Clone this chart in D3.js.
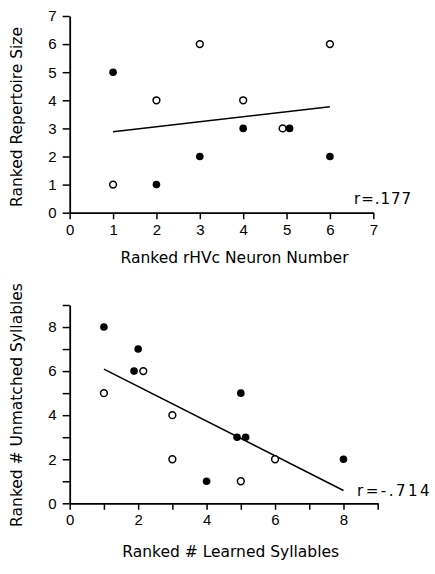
<!DOCTYPE html>
<html><head><meta charset="utf-8">
<script src="https://cdn.jsdelivr.net/npm/d3@7"></script>
<style>body{margin:0;background:#fff}svg{display:block}</style>
</head><body>
<svg id="c" width="435" height="574"></svg>
<script>
// Top panel data
const topFilledX = [1, 2, 3, 4, 5.07, 6];
const topFilledY = [5, 1, 2, 3, 3, 2];
const topOpenX = [1, 2, 3, 4, 4.91, 6];
const topOpenY = [1, 4, 6, 4, 3, 6];
const topLineX = [1, 6];
const topLineY = [2.88, 3.77];
const topXTicks = [0, 1, 2, 3, 4, 5, 6, 7];
const topYTicks = [0, 1, 2, 3, 4, 5, 6, 7];
const topXLabel = "Ranked rHVc Neuron Number";
const topYLabel = "Ranked Repertoire Size";
const topR = "r=.177";

// Bottom panel data
const botFilledX = [1, 2, 1.88, 5, 4.89, 5.14, 4, 8];
const botFilledY = [8, 7, 6, 5, 3, 3, 1, 2];
const botOpenX = [1, 2.15, 3, 3, 5, 6];
const botOpenY = [5, 6, 4, 2, 1, 2];
const botLineX = [1, 8];
const botLineY = [6.09, 0.58];
const botXTicks = [0, 1, 2, 3, 4, 5, 6, 7, 8, 9];
const botYTicks = [0, 1, 2, 3, 4, 5, 6, 7, 8, 9];
const botXLabel = "Ranked # Learned Syllables";
const botYLabel = "Ranked # Unmatched Syllables";
const botR = "r=-.714";

const svg = d3.select("#c");
const FONT = "DejaVu Sans";
const TFONT = "Liberation Sans";

function panel(o) {
  const g = svg.append("g");
  const x = d3.scaleLinear().domain(o.xDom).range([o.x0, o.x1]);
  const y = d3.scaleLinear().domain(o.yDom).range([o.y0, o.y1]);
  const xa = d3.axisBottom(x).tickValues(o.xTicks).tickSize(6.5).tickSizeOuter(0).tickPadding(5)
    .tickFormat(o.xFmt);
  const ya = d3.axisLeft(y).tickValues(o.yTicks).tickSize(7).tickSizeOuter(0).tickPadding(6)
    .tickFormat(o.yFmt);
  const gx = g.append("g").attr("transform", `translate(0,${o.y0})`).call(xa);
  const gy = g.append("g").attr("transform", `translate(${o.x0},0)`).call(ya);
  [gx, gy].forEach(a => {
    a.select(".domain").attr("stroke", "#000").attr("stroke-width", 1.8);
    a.selectAll(".tick line").attr("stroke", "#000").attr("stroke-width", 1.5);
    a.selectAll(".tick text").attr("font-family", TFONT).attr("font-size", 15).attr("fill", "#000");
  });
  // regression line
  g.append("line")
    .attr("x1", x(o.lineX[0])).attr("y1", y(o.lineY[0]))
    .attr("x2", x(o.lineX[1])).attr("y2", y(o.lineY[1]))
    .attr("stroke", "#000").attr("stroke-width", 1.6);
  // points
  g.selectAll(".f").data(o.fx.map((v, i) => [v, o.fy[i]])).enter().append("circle")
    .attr("cx", d => x(d[0])).attr("cy", d => y(d[1])).attr("r", 3.8).attr("fill", "#000");
  g.selectAll(".o").data(o.ox.map((v, i) => [v, o.oy[i]])).enter().append("circle")
    .attr("cx", d => x(d[0])).attr("cy", d => y(d[1])).attr("r", 3.4)
    .attr("fill", "#fff").attr("stroke", "#000").attr("stroke-width", 1.5);
  // titles
  g.append("text").attr("x", (o.x0 + o.x1) / 2 + o.xtDx).attr("y", o.xtY)
    .attr("text-anchor", "middle").attr("font-family", FONT).attr("font-size", 15.5)
    .text(o.xLabel);
  g.append("text").attr("transform", `translate(${o.ytX},${o.ytY}) rotate(-90)`)
    .attr("text-anchor", "middle").attr("font-family", FONT).attr("font-size", 15.5)
    .text(o.yLabel);
  g.append("text").attr("x", o.rX).attr("y", o.rY).attr("font-family", FONT)
    .attr("font-size", 15).attr("letter-spacing", o.rLs).text(o.r);
}

panel({
  xDom: [0, 7], yDom: [0, 7], x0: 69.7, x1: 373.3, y0: 212.7, y1: 16,
  xTicks: topXTicks, yTicks: topYTicks, xFmt: d => d, yFmt: d => d,
  lineX: topLineX, lineY: topLineY,
  fx: topFilledX, fy: topFilledY, ox: topOpenX, oy: topOpenY,
  xLabel: topXLabel, yLabel: topYLabel, xtDx: 13, xtY: 263, ytX: 22, ytY: 117,
  r: topR, rX: 354, rY: 204, rLs: 1
});
panel({
  xDom: [0, 9], yDom: [0, 9], x0: 69.7, x1: 377.7, y0: 503.3, y1: 305,
  xTicks: botXTicks, yTicks: botYTicks,
  xFmt: d => d % 2 === 0 ? d : "", yFmt: d => d % 2 === 0 ? d : "",
  lineX: botLineX, lineY: botLineY,
  fx: botFilledX, fy: botFilledY, ox: botOpenX, oy: botOpenY,
  xLabel: botXLabel, yLabel: botYLabel, xtDx: 7, xtY: 557, ytX: 22, ytY: 405,
  r: botR, rX: 357, rY: 496, rLs: 2.5
});
</script>
</body></html>
